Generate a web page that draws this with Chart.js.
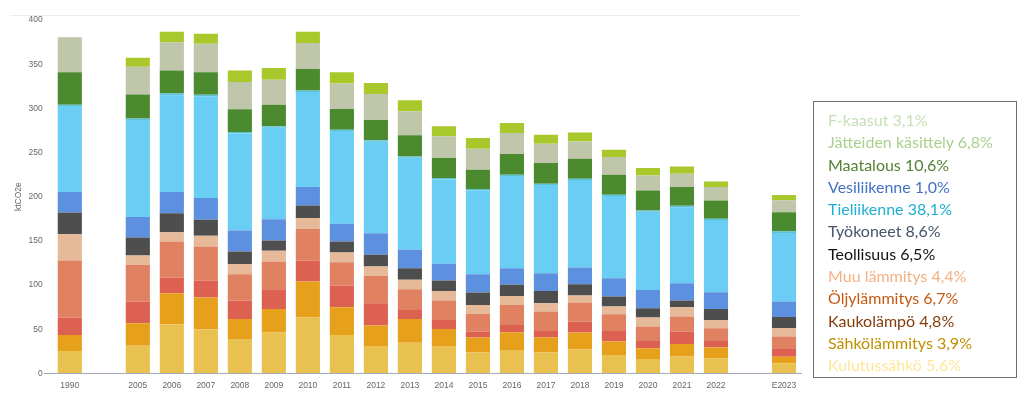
<!DOCTYPE html>
<html>
<head>
<meta charset="utf-8">
<script src="https://cdn.jsdelivr.net/npm/chart.js@4/dist/chart.umd.min.js"></script>
<style>
  html, body { margin: 0; padding: 0; background: #fff; }
  #wrap { position: relative; width: 1024px; height: 399px; overflow: hidden; }
  #c { position: absolute; left: 0; top: 0; }
  #topline { position: absolute; left: 10px; top: 15px; width: 790px; height: 1px; background: #ececec; }
  #legend { position: absolute; left: 813px; top: 101px; width: 204px; height: 277px;
    border: 1px solid #6f6f6f; box-sizing: border-box; padding: 7px 0 0 14px;
    font-family: Lato, "Open Sans", sans-serif; font-size: 16px; line-height: 22.3px; }
  #legend div { white-space: nowrap; }
</style>
</head>
<body>
<div id="wrap">
  <div id="topline"></div>
  <canvas id="c" width="1024" height="399"></canvas>
  <div id="legend"></div>
</div>
<script>
const categories = ['1990','','2005','2006','2007','2008','2009','2010','2011','2012','2013','2014','2015','2016','2017','2018','2019','2020','2021','2022','','E2023'];

const kulutussahko  = [25.4,null,31.4,55.6,49.9,39.0,46.2,63.2,43.5,31.0,34.8,30.3,23.9,26.5,23.9,27.3,20.9,16.3,19.0,17.1,null,11.3];
const sahkolammitys = [18.1,null,25.3,35.2,35.9,22.7,26.8,40.8,31.4,23.1,26.9,20.0,16.6,20.0,17.0,18.9,15.1,12.1,14.3,12.1,null,7.6];
const kaukolampo    = [19.7,null,24.6,17.7,19.3,20.7,22.3,23.8,24.2,25.3,10.2,10.2,6.8,8.4,7.2,12.4,12.1,8.3,14.0,7.5,null,9.5];
const oljylammitys  = [64.6,null,41.6,40.8,38.5,29.9,31.3,35.5,26.8,31.0,23.4,21.9,20.0,22.6,21.9,21.6,18.8,16.3,17.0,14.4,null,13.3];
const muuLammitys   = [29.8,null,10.5,10.6,12.1,11.3,12.1,12.5,10.9,10.6,10.6,11.0,10.2,10.2,9.4,7.9,8.7,10.2,10.6,9.4,null,9.3];
const teollisuus    = [24.6,null,20.3,21.5,18.2,14.4,11.7,14.3,12.5,13.2,13.2,11.7,14.0,12.5,14.0,12.8,11.4,10.5,7.5,12.5,null,12.8];
const tyokoneet     = [23.0,null,23.4,23.8,24.5,23.8,24.2,20.8,20.0,24.5,20.8,18.9,20.8,18.9,20.0,18.9,20.7,20.8,19.7,18.9,null,17.7];
const tieliikenne   = [97.5,null,109.8,109.6,115.3,109.8,103.5,107.5,105.0,103.6,104.2,95.6,94.8,104.3,99.8,99.0,93.0,88.4,86.1,81.6,null,77.3];
const vesiliikenne  = [1.5,null,1.5,2.2,1.8,1.6,1.5,1.7,1.6,1.5,1.5,1.5,1.5,1.5,1.5,1.5,1.5,1.5,1.5,1.5,null,2.0];
const maatalous     = [36.7,null,27.2,25.7,25.4,25.7,24.6,24.5,23.4,23.0,23.9,22.7,21.9,23.4,23.4,22.7,22.7,22.7,21.2,20.8,null,21.5];
const jatteiden     = [39.6,null,31.4,32.2,32.1,31.0,28.3,29.5,28.7,29.5,27.2,24.5,23.8,23.8,21.9,19.6,20.0,17.0,15.1,15.1,null,13.6];
const fkaasut       = [0,null,10.2,11.7,11.3,12.8,13.3,12.5,12.9,12.5,12.4,11.3,12.1,11.3,10.2,10.2,8.3,8.3,8.3,6.4,null,6.1];

const seriesNames = ['Kulutussähkö','Sähkölämmitys','Kaukolämpö','Öljylämmitys','Muu lämmitys','Teollisuus','Työkoneet','Tieliikenne','Vesiliikenne','Maatalous','Jätteiden käsittely','F-kaasut'];
const seriesData = [kulutussahko,sahkolammitys,kaukolampo,oljylammitys,muuLammitys,teollisuus,tyokoneet,tieliikenne,vesiliikenne,maatalous,jatteiden,fkaasut];
const barColors = ['#E9C150','#E6A01C','#DC6151','#E08261','#E6BA98','#4E4E4E','#5D90DE','#6ACDF4','#5CC2D4','#4B8A2F','#BFC6A9','#A8C82C'];

const legendLabels = ['F-kaasut 3,1%','Jätteiden käsittely 6,8%','Maatalous 10,6%','Vesiliikenne 1,0%','Tieliikenne 38,1%','Työkoneet 8,6%','Teollisuus 6,5%','Muu lämmitys 4,4%','Öljylämmitys 6,7%','Kaukolämpö 4,8%','Sähkölämmitys 3,9%','Kulutussähkö 5.6%'];
const legendColors = ['#C5DFB4','#A9D18E','#548235','#4472C4','#1FAFD3','#44546A','#111111','#F4B183','#C55A11','#843C0C','#BF9000','#FFE699'];

const leg = document.getElementById('legend');
legendLabels.forEach((t, i) => {
  const d = document.createElement('div');
  d.textContent = t;
  d.style.color = legendColors[i];
  leg.appendChild(d);
});

const datasets = seriesData.map((d, i) => ({
  label: seriesNames[i],
  data: d,
  backgroundColor: barColors[i],
  borderWidth: 0,
  barPercentage: 0.71,
  categoryPercentage: 1.0
}));

new Chart(document.getElementById('c'), {
  type: 'bar',
  data: { labels: categories, datasets },
  options: {
    responsive: false,
    animation: false,
    layout: { padding: { top: 20, right: 223, left: 0, bottom: 0 } },
    plugins: { legend: { display: false }, tooltip: { enabled: false } },
    scales: {
      x: {
        stacked: true,
        grid: { display: false, drawTicks: false },
        border: { display: true, color: '#A3AAB8', width: 1 },
        ticks: { color: '#666', padding: 7, font: { family: 'Liberation Sans, Arial, sans-serif', size: 8.5 }, maxRotation: 0, autoSkip: false },
        afterFit: s => { s.height = 25.6; }
      },
      y: {
        stacked: true,
        min: 0, max: 400,
        grid: { drawOnChartArea: false, drawTicks: true, tickLength: 9,
          color: ctx => (ctx.tick && ctx.tick.value === 0) ? '#A3AAB8' : 'rgba(0,0,0,0)' },
        border: { display: false },
        ticks: { stepSize: 50, color: '#666', padding: 1, font: { family: 'Liberation Sans, Arial, sans-serif', size: 8.5 } },
        title: { display: true, text: 'ktCO2e', color: '#666', padding: { top: 14, bottom: 0 }, font: { family: 'Liberation Sans, Arial, sans-serif', size: 8.5 } },
        afterFit: s => { s.width = 52.8; }
      }
    }
  }
});
</script>
</body>
</html>
